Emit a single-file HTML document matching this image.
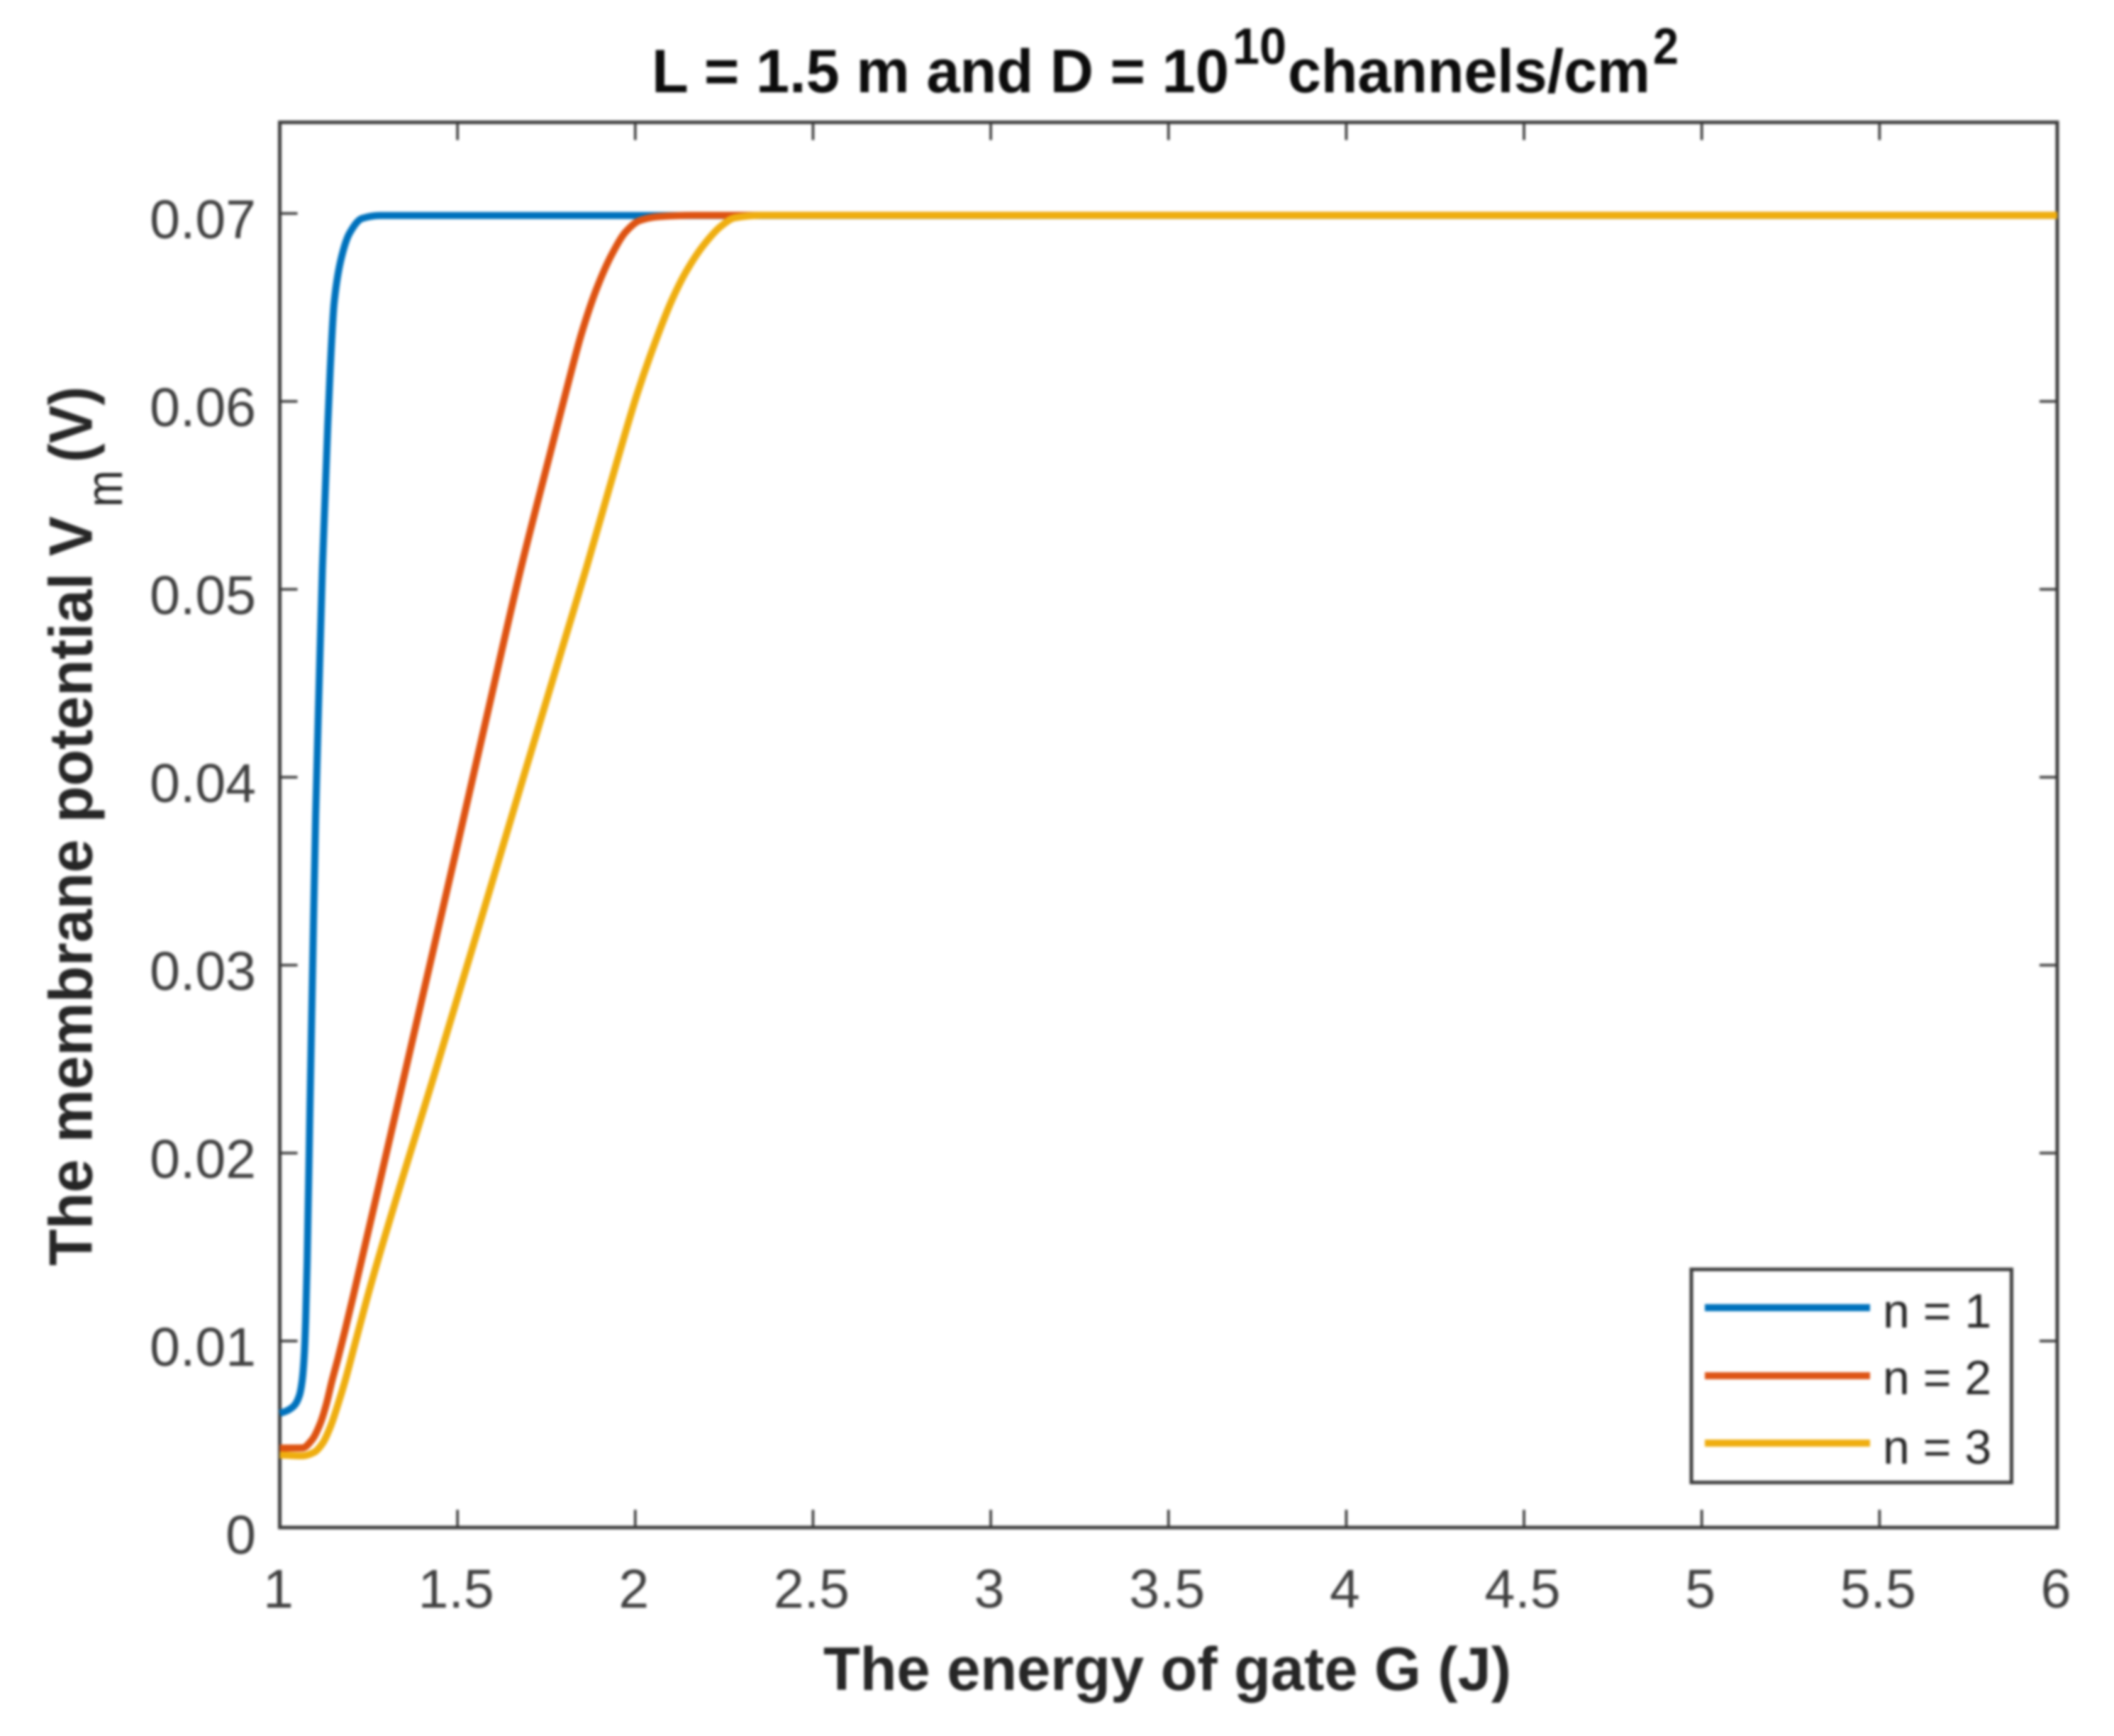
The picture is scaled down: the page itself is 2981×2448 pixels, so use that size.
<!DOCTYPE html>
<html lang="en">
<head>
<meta charset="utf-8">
<title>Membrane potential vs gate energy</title>
<style>
  html, body { margin: 0; padding: 0; background: #ffffff; }
  body { width: 2981px; height: 2448px; overflow: hidden; }
  svg { display: block; filter: blur(1.8px); }
  text { font-family: "Liberation Sans", Arial, sans-serif; }
</style>
</head>
<body>
<svg id="chart" xmlns="http://www.w3.org/2000/svg" width="2981" height="2448" viewBox="0 0 2981 2448">
  <rect x="0" y="0" width="2981" height="2448" fill="#ffffff"/>

  <g id="axes"></g>
  <rect x="394.5" y="172.5" width="2506.5" height="1981.5" fill="none" stroke="#3c3c3c" stroke-width="5"/>
  <g id="series"></g>

  <g font-weight="700" fill="#0c0c0c">
    <text x="919" y="130" font-size="86" textLength="814" lengthAdjust="spacingAndGlyphs">L = 1.5 m and D = 10</text>
    <text x="1738" y="90" font-size="72" textLength="76" lengthAdjust="spacingAndGlyphs">10</text>
    <text x="1816" y="130" font-size="86" textLength="511" lengthAdjust="spacingAndGlyphs">channels/cm</text>
    <text x="2331" y="90" font-size="72" textLength="36" lengthAdjust="spacingAndGlyphs">2</text>
  </g>

  <text x="1161" y="2383" font-size="86" font-weight="700" fill="#262626" textLength="970" lengthAdjust="spacingAndGlyphs">The energy of gate G (J)</text>

  <g font-weight="700" fill="#262626">
    <text transform="translate(129.5 1785) rotate(-90)" font-size="86" textLength="1057" lengthAdjust="spacingAndGlyphs">The membrane potential V</text>
    <text transform="translate(172 715) rotate(-90)" font-size="72" font-weight="400" textLength="52" lengthAdjust="spacingAndGlyphs">m</text>
    <text transform="translate(129.5 652) rotate(-90)" font-size="86" textLength="107" lengthAdjust="spacingAndGlyphs">(V)</text>
  </g>

  <g>
    <rect x="2385" y="1790" width="451.5" height="300.5" fill="#ffffff" stroke="#3c3c3c" stroke-width="5"/>
    <line x1="2404" x2="2637" y1="1844" y2="1844" stroke="#0072BD" stroke-width="10"/>
    <line x1="2404" x2="2637" y1="1940" y2="1940" stroke="#DE5516" stroke-width="10"/>
    <line x1="2404" x2="2637" y1="2035" y2="2035" stroke="#EFAE10" stroke-width="10"/>
    <text x="2655" y="1872" font-size="68" fill="#262626">n = 1</text>
    <text x="2655" y="1966" font-size="68" fill="#262626">n = 2</text>
    <text x="2655" y="2064" font-size="68" fill="#262626">n = 3</text>
  </g>
</svg>

<script>
// Tick values and labels
const xTickValues = [1, 1.5, 2, 2.5, 3, 3.5, 4, 4.5, 5, 5.5, 6];
const xTickLabels = ["1", "1.5", "2", "2.5", "3", "3.5", "4", "4.5", "5", "5.5", "6"];
const yTickValues = [0, 0.01, 0.02, 0.03, 0.04, 0.05, 0.06, 0.07];
const yTickLabels = ["0", "0.01", "0.02", "0.03", "0.04", "0.05", "0.06", "0.07"];

// Series: gate energy G (J) and membrane potential Vm (V)
const gN1 = [1.000, 1.017, 1.041, 1.055, 1.063, 1.069, 1.073, 1.077, 1.085, 1.093, 1.101, 1.111, 1.120, 1.135, 1.142, 1.153, 1.173, 1.196, 1.232, 1.282, 6];
const vN1 = [0.00615, 0.00626, 0.00657, 0.00709, 0.00789, 0.00928, 0.01117, 0.01419, 0.02249, 0.03042, 0.03796, 0.04513, 0.05117, 0.05872, 0.06174, 0.06525, 0.06762, 0.06894, 0.06974, 0.06989, 0.06990];

const gN2 = [1.000, 1.064, 1.091, 1.114, 1.131, 1.147, 1.164, 1.184, 1.206, 1.312, 1.404, 1.496, 1.587, 1.679, 1.764, 1.813, 1.849, 1.893, 1.936, 1.974, 2.012, 2.065, 2.164, 6];
const vN2 = [0.00430, 0.00431, 0.00475, 0.00562, 0.00664, 0.00789, 0.00909, 0.01060, 0.01234, 0.02098, 0.02853, 0.03608, 0.04362, 0.05117, 0.05748, 0.06109, 0.06362, 0.06608, 0.06789, 0.06904, 0.06962, 0.06983, 0.06990, 0.06990];

const gN3 = [1.000, 1.064, 1.097, 1.121, 1.144, 1.164, 1.184, 1.210, 1.256, 1.444, 1.564, 1.683, 1.803, 1.863, 1.949, 2.005, 2.058, 2.104, 2.142, 2.192, 2.241, 2.280, 2.355, 6];
const vN3 = [0.00394, 0.00389, 0.00408, 0.00457, 0.00551, 0.00664, 0.00789, 0.00974, 0.01298, 0.02475, 0.03230, 0.03985, 0.04740, 0.05117, 0.05683, 0.06038, 0.06325, 0.06543, 0.06687, 0.06831, 0.06932, 0.06977, 0.06990, 0.06990];

const SVG_NS = "http://www.w3.org/2000/svg";
const plotLeft = 394.5, plotRight = 2901, plotTop = 172.5, plotBottom = 2154;

function xScale(g) { return plotLeft + (g - 1) * (plotRight - plotLeft) / 5; }
function yScale(v) { return 2156 - v * 26500; }

const axes = document.getElementById("axes");
const seriesGroup = document.getElementById("series");

function tickLine(x1, y1, x2, y2) {
  const l = document.createElementNS(SVG_NS, "line");
  l.setAttribute("x1", x1); l.setAttribute("y1", y1);
  l.setAttribute("x2", x2); l.setAttribute("y2", y2);
  l.setAttribute("stroke", "#333333");
  l.setAttribute("stroke-width", "3.5");
  return l;
}

xTickValues.forEach(function (g, i) {
  const px = xScale(g);
  if (i > 0 && i < xTickValues.length - 1) {
    const bottomTick = tickLine(px, plotBottom, px, plotBottom - 25);
    
    
    axes.appendChild(bottomTick);
    const topTick = tickLine(px, plotTop, px, plotTop + 25);
    
    
    axes.appendChild(topTick);
  }
  const label = document.createElementNS(SVG_NS, "text");
  
  
  label.setAttribute("x", px - 2);
  label.setAttribute("y", 2267);
  label.setAttribute("text-anchor", "middle");
  label.setAttribute("font-size", "77");
  label.setAttribute("fill", "#404040");
  label.textContent = xTickLabels[i];
  axes.appendChild(label);
});

yTickValues.forEach(function (v, i) {
  const py = yScale(v);
  if (i > 0) {
    const leftTick = tickLine(plotLeft, py, plotLeft + 25, py);
    
    
    axes.appendChild(leftTick);
    const rightTick = tickLine(plotRight, py, plotRight - 25, py);
    
    
    axes.appendChild(rightTick);
  }
  const label = document.createElementNS(SVG_NS, "text");
  
  
  label.setAttribute("x", 361);
  label.setAttribute("y", py + 35);
  label.setAttribute("text-anchor", "end");
  label.setAttribute("font-size", "77");
  label.setAttribute("fill", "#404040");
  label.textContent = yTickLabels[i];
  axes.appendChild(label);
});

// Smooth monotone cubic path through the data points
function curvePath(gs, vs) {
  const xs = gs.map(xScale);
  const ys = vs.map(yScale);
  const n = xs.length;
  const slopes = [];
  for (let i = 0; i < n - 1; i++) {
    slopes.push((ys[i + 1] - ys[i]) / (xs[i + 1] - xs[i]));
  }
  const tangents = [slopes[0]];
  for (let i = 1; i < n - 1; i++) {
    if (slopes[i - 1] * slopes[i] <= 0) {
      tangents.push(0);
    } else {
      const h0 = xs[i] - xs[i - 1], h1 = xs[i + 1] - xs[i];
      const w0 = 2 * h1 + h0, w1 = h1 + 2 * h0;
      tangents.push((w0 + w1) / (w0 / slopes[i - 1] + w1 / slopes[i]));
    }
  }
  tangents.push(slopes[n - 2]);
  let d = "M" + xs[0].toFixed(1) + " " + ys[0].toFixed(1);
  for (let i = 0; i < n - 1; i++) {
    const h = (xs[i + 1] - xs[i]) / 3;
    d += " C" + (xs[i] + h).toFixed(2) + " " + (ys[i] + tangents[i] * h).toFixed(2) +
         " " + (xs[i + 1] - h).toFixed(2) + " " + (ys[i + 1] - tangents[i + 1] * h).toFixed(2) +
         " " + xs[i + 1].toFixed(2) + " " + ys[i + 1].toFixed(2);
  }
  return d;
}

function drawSeries(gs, vs, color) {
  const line = document.createElementNS(SVG_NS, "path");
  line.setAttribute("d", curvePath(gs, vs));
  line.setAttribute("fill", "none");
  line.setAttribute("stroke", color);
  line.setAttribute("stroke-width", "10");
  line.setAttribute("stroke-linejoin", "round");
  return line;
}

const lineN1 = drawSeries(gN1, vN1, "#0072BD");


seriesGroup.appendChild(lineN1);

const lineN2 = drawSeries(gN2, vN2, "#DE5312");


seriesGroup.appendChild(lineN2);

const lineN3 = drawSeries(gN3, vN3, "#EFAE10");


seriesGroup.appendChild(lineN3);
</script>
</body>
</html>
